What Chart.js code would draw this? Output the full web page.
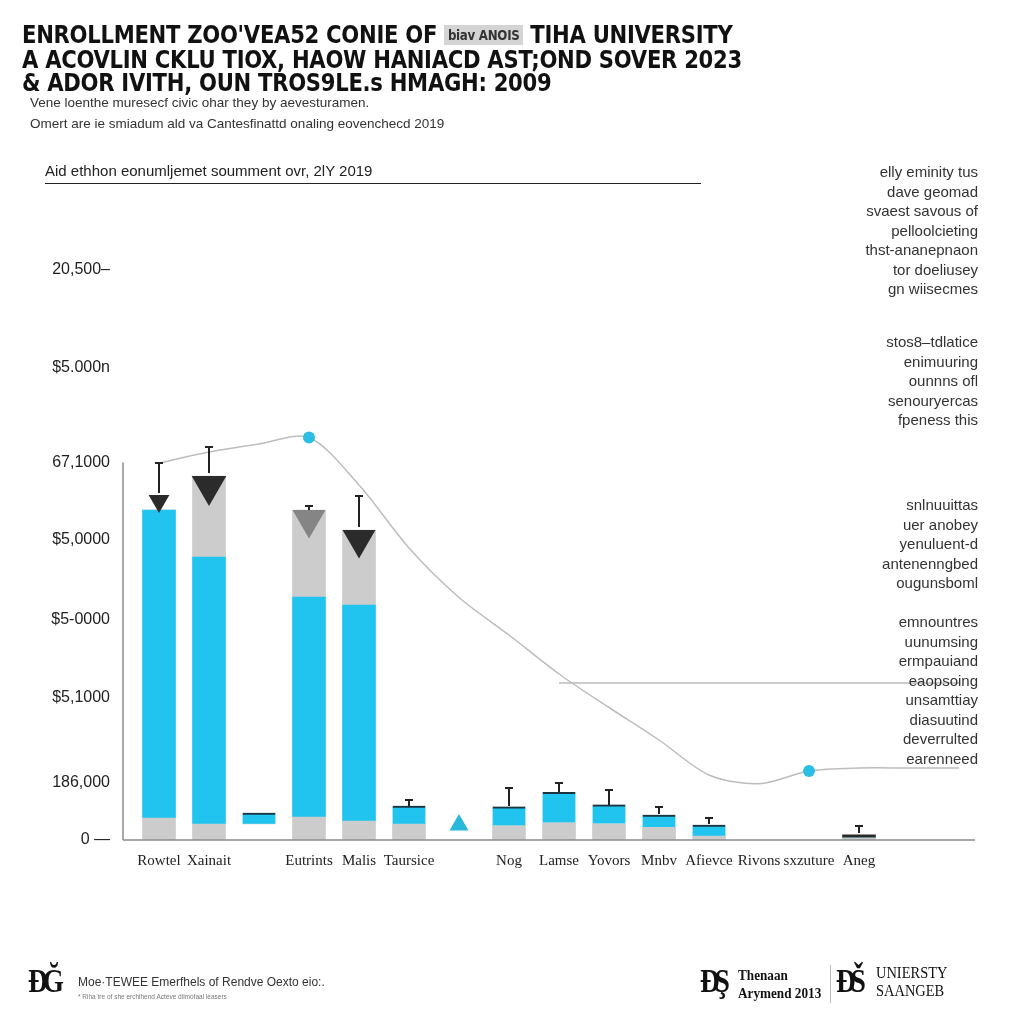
<!DOCTYPE html>
<html>
<head>
<meta charset="utf-8">
<script src="https://cdn.jsdelivr.net/npm/chart.js@4.4.1/dist/chart.umd.min.js"></script>
<style>
	body { margin: 0; background: #fff; width: 1024px; height: 1024px; overflow: hidden; position: relative; font-family: "Liberation Sans", Arial, sans-serif; color: #111; }
	#myChart { position: absolute; left: 0; top: 0; }
	.t { position: absolute; white-space: nowrap; }
	.title { left: 22px; top: 23px; font-family: "Liberation Sans Narrow", "DejaVu Sans Condensed", sans-serif; font-weight: bold; font-size: 25px; line-height: 23.5px; color: #111; letter-spacing: -0.3px; transform: scaleX(0.94); transform-origin: left top; }
	.title .blur { background: #d4d4d4; font-size: 14px; color: #333; padding: 2px 4px; vertical-align: 3px; }
	.sub { left: 30px; font-size: 13.5px; color: #333; font-family: "Liberation Sans Narrow", "Liberation Sans", sans-serif; }
	.head { left: 45px; top: 162px; width: 656px; font-size: 15px; color: #222; border-bottom: 1.5px solid #222; padding-bottom: 4px; }
	.side { right: 46px; text-align: right; font-size: 15px; line-height: 19.5px; color: #333; }
	.foot { font-size: 12px; color: #333; }
</style>
</head>
<body>
<canvas id="myChart" width="1024" height="1024"></canvas>

<div class="t title">ENROLLMENT ZOO'VEA52 CONIE OF <span class="blur">biav ANOIS</span> TIHA UNIVERSITY<br>A ACOVLIN CKLU TIOX, HAOW HANIACD AST;OND SOVER 2023<br>&amp; ADOR IVITH, OUN TROS9LE.s HMAGH: 2009</div>
<div class="t sub" style="top:95px">Vene loenthe muresecf civic ohar they by aevesturamen.</div>
<div class="t sub" style="top:116px">Omert are ie smiadum ald va Cantesfinattd onaling eovenchecd 2019</div>
<div class="t head">Aid ethhon eonumljemet soumment ovr, 2lY 2019</div>

<div class="t side" style="top:162px">elly eminity tus<br>dave geomad<br>svaest savous of<br>pelloolcieting<br>thst-ananepnaon<br>tor doeliusey<br>gn wiisecmes</div>
<div class="t side" style="top:332px">stos8–tdlatice<br>enimuuring<br>ounnns ofl<br>senouryercas<br>fpeness this</div>
<div class="t side" style="top:495px">snlnuuittas<br>uer anobey<br>yenuluent-d<br>antenenngbed<br>ougunsboml</div>
<div class="t side" style="top:612px">emnountres<br>uunumsing<br>ermpauiand<br>eaopsoing<br>unsamttiay<br>diasuutind<br>deverrulted<br>earenneed</div>

<div class="t" style="left:28px;top:962px;font:bold 34px 'Liberation Serif',serif;letter-spacing:-6px;transform:scaleX(0.8);transform-origin:left">ÐĞ</div>
<div class="t foot" style="left:78px;top:975px">Moe·TEWEE Emerfhels of Rendve Oexto eio:.</div>
<div class="t foot" style="left:78px;top:993px;font-size:6.5px;color:#777">* Riha tre of she erchlhend Acteve dilmofaal leasers</div>
<div class="t" style="left:700px;top:962px;font:bold 34px 'Liberation Serif',serif;letter-spacing:-6px;transform:scaleX(0.8);transform-origin:left">ÐŞ</div>
<div class="t" style="left:738px;top:966px;font:bold 15px 'Liberation Serif',serif;line-height:18px;transform:scaleX(0.88);transform-origin:left">Thenaan<br>Arymend 2013</div>
<div class="t" style="left:830px;top:965px;width:1px;height:38px;background:#bbb"></div>
<div class="t" style="left:836px;top:962px;font:bold 34px 'Liberation Serif',serif;letter-spacing:-6px;transform:scaleX(0.8);transform-origin:left">ĐŠ</div>
<div class="t" style="left:876px;top:964px;font:17px 'Liberation Serif',serif;line-height:18px;transform:scaleX(0.85);transform-origin:left">UNIERSTY<br>SAANGEB</div>

<script>
// categories along the x axis (blank slots have no label)
const categories = ["Rowtel", "Xainait", "", "Eutrints", "Malis", "Taursice", "", "Nog", "Lamse", "Yovors", "Mnbv", "Afievce", "Rivons", "sxzuture", "Aneg", "", ""];

// stacked bar segments (thousands)
const gapBelow   = [0, 0, 6.4, 0, 0, 0, null, 0, 0, 0, 0, 0, null, null, 0, null, null];
const baseGrey   = [8.8, 6.4, 0, 9.2, 7.6, 6.4, null, 5.7, 6.9, 6.5, 5.1, 1.6, null, null, 0.8, null, null];
const enrolled   = [123.2, 106.8, 4.4, 88, 86.4, 7.2, null, 7.6, 12.2, 7.6, 4.9, 4.4, null, null, 0, null, null];
const capacity   = [0, 32.4, 0, 34.8, 30, 0, null, 0, 0, 0, 0, 0, null, null, 0, null, null];
const withdrawn  = [null, null, null, null, null, null, null, null, null, null, null, null, null, null, 1.3, null, null];

// markers on top of bars
const dropMarks  = [135.6, 141.6, null, 128.2, 120.2, null, null, null, null, null, null, null, null, null, null, null, null];
const riseMarks  = [null, null, null, null, null, null, 6, null, null, null, null, null, null, null, null, null, null];

// whiskers
const errHigh = [150.8, 157.2, null, 133.6, 137.6, 16, null, 20.8, 22.8, 20, 13.2, 8.8, null, null, 5.6, null, null];
const errLow  = [138.8, 146.8, null, 132, 125.2, 13.6, null, 13.6, 19.2, 14, 10.4, 6.4, null, null, 2.8, null, null];

// trend line, highlighted points and reference level
const trend     = [150.8, 155.2, 158.4, 161, 142, 116.8, 97, 82, 66.4, 53, 40, 26, 22.5, 27.6, 28.8, 28.8, 28.8];
const highlight = [null, null, null, 161, null, null, null, null, null, null, null, null, null, 27.6, null, null, null];
const reference = [null, null, null, null, null, null, null, null, 62.8, 62.8, 62.8, 62.8, 62.8, 62.8, 62.8, 62.8, 62.8];

// y axis ticks
const yTickValues = [0, 23, 57, 88, 120, 151, 189, 228];
const yTickLabels = ["0 —", "186,000", "$5,1000", "$5-0000", "$5,0000", "67,1000", "$5.000n", "20,500–"];

const BLUE = "#20c4ef";
const GREY = "#cccccc";

const extras = {
	id: "extras",
	afterDatasetsDraw(chart) {
		const { ctx, chartArea, scales: { x, y } } = chart;
		ctx.save();
		ctx.strokeStyle = "#222";
		ctx.lineWidth = 2;
		for (let i = 0; i < errHigh.length; i++) {
			if (errHigh[i] == null) continue;
			const px = x.getPixelForValue(i);
			const top = y.getPixelForValue(errHigh[i]);
			const bot = y.getPixelForValue(errLow[i]);
			ctx.beginPath();
			ctx.moveTo(px, top); ctx.lineTo(px, bot);
			ctx.moveTo(px - 4, top); ctx.lineTo(px + 4, top);
			ctx.stroke();
		}
		// axis lines
		ctx.strokeStyle = "#8c8c8c";
		ctx.lineWidth = 1.5;
		const ax = chartArea.left - 11;
		ctx.beginPath();
		ctx.moveTo(ax, chartArea.bottom); ctx.lineTo(chartArea.right - 9, chartArea.bottom);
		ctx.moveTo(ax, chartArea.bottom); ctx.lineTo(ax, y.getPixelForValue(yTickValues[5]));
		ctx.stroke();
		ctx.restore();
	}
};

const dropColors = ["#2b2b2b", "#2b2b2b", "#2b2b2b", "#858585", "#2b2b2b"];
const dropSizes = [12, 20, 0, 19, 19];

new Chart("myChart", {
	type: "bar",
	data: {
		labels: categories,
		datasets: [
			{ label: "gap", data: gapBelow, backgroundColor: "rgba(0,0,0,0)", stack: "b", order: 10, barThickness: 33 },
			{ label: "base", data: baseGrey, backgroundColor: GREY, stack: "b", order: 10, barThickness: 33 },
			{
				label: "enrolled", data: enrolled, backgroundColor: BLUE, stack: "b", order: 10, barThickness: 33,
				borderColor: "#1b3442",
				borderSkipped: false,
				borderWidth: ctx => (ctx.raw != null && ctx.raw < 20 && ctx.raw > 0) ? { top: 2, left: 0, right: 0, bottom: 0 } : 0
			},
			{ label: "capacity", data: capacity, backgroundColor: GREY, stack: "b", order: 10, barThickness: 33 },
			{ label: "withdrawn", data: withdrawn, backgroundColor: "#2a2a2a", stack: "b", order: 10, barThickness: 33 },
			{
				type: "line", label: "drop", data: dropMarks, stack: "m1", order: 3, showLine: false,
				pointStyle: "triangle", rotation: 180,
				pointRadius: ctx => dropSizes[ctx.dataIndex] || 0,
				pointBackgroundColor: ctx => dropColors[ctx.dataIndex],
				pointBorderWidth: 0
			},
			{
				type: "line", label: "rise", data: riseMarks, stack: "m2", order: 3, showLine: false,
				pointStyle: "triangle", pointRadius: 11, pointBackgroundColor: "#27b8dc", pointBorderWidth: 0
			},
			{
				type: "line", label: "reference", data: reference, stack: "m3", order: 4,
				borderColor: "#9a9a9a", borderWidth: 1.2, pointRadius: 0
			},
			{
				type: "line", label: "trend", data: trend, stack: "m4", order: 2,
				borderColor: "#bdbdbd", borderWidth: 1.5, pointRadius: 0, tension: 0.3
			},
			{
				type: "line", label: "highlight", data: highlight, stack: "m5", order: 1, showLine: false,
				pointRadius: 6, pointBackgroundColor: "#2bbde3", pointBorderWidth: 0
			}
		]
	},
	options: {
		responsive: false,
		animation: false,
		layout: { padding: { left: 0, top: 250, right: 40, bottom: 140 } },
		plugins: { legend: { display: false }, tooltip: { enabled: false } },
		scales: {
			x: {
				stacked: true,
				grid: { display: false, drawTicks: false },
				border: { display: false },
				ticks: { autoSkip: false, maxRotation: 0, minRotation: 0, padding: 12, color: "#222", font: { family: "Liberation Serif", size: 15 } },
				afterFit: axis => { axis.height = 44; }
			},
			y: {
				stacked: true,
				min: 0,
				max: 236,
				grid: { display: false, drawTicks: false },
				border: { display: false },
				afterBuildTicks: axis => { axis.ticks = yTickValues.map(v => ({ value: v })); },
				ticks: {
					padding: 24,
					color: "#222",
					font: { family: "Liberation Sans", size: 16 },
					callback: (v, i) => yTickLabels[i]
				},
				afterFit: axis => { axis.width = 134; }
			}
		}
	},
	plugins: [extras]
});
</script>
</body>
</html>
